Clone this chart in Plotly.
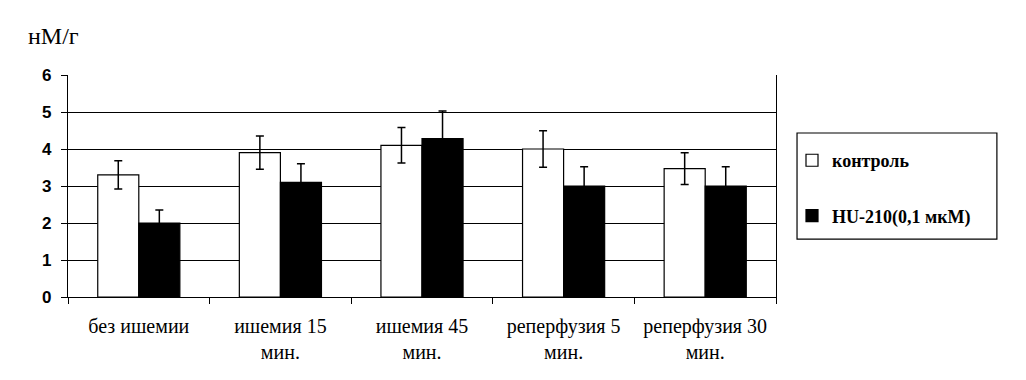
import plotly.graph_objects as go

categories = ["без ишемии", "ишемия 15<br>мин.", "ишемия 45<br>мин.", "реперфузия 5<br>мин.", "реперфузия 30<br>мин."]
control = [3.3, 3.9, 4.1, 4.0, 3.47]
control_err = [0.38, 0.45, 0.48, 0.49, 0.43]
hu210 = [2.0, 3.1, 4.28, 3.0, 3.0]
hu210_err = [0.35, 0.5, 0.75, 0.52, 0.52]
series_names = ["контроль", "HU-210(0,1 мкМ)"]
y_ticks = [0, 1, 2, 3, 4, 5, 6]

fig = go.Figure()
fig.add_trace(go.Bar(
    x=categories, y=control, name=series_names[0], legendgroup="a",
    marker=dict(color="white", line=dict(color="black", width=1.2)),
    error_y=dict(type="data", array=control_err, color="black", thickness=1.5, width=4),
))
fig.add_trace(go.Bar(
    x=categories, y=hu210, name=series_names[1], legendgroup="b",
    marker=dict(color="black", line=dict(color="black", width=1.2)),
    error_y=dict(type="data", array=hu210_err, color="black", thickness=1.5, width=4),
))

fig.update_layout(
    width=1026, height=380,
    margin=dict(l=68, r=250, t=75, b=83, autoexpand=False),
    paper_bgcolor="white", plot_bgcolor="white",
    barmode="group", bargap=0.42, bargroupgap=0,
    showlegend=True,
    legend=dict(
        x=1.0226, y=0.698, xanchor="left", yanchor="top",
        borderwidth=0, bgcolor="rgba(0,0,0,0)",
        font=dict(family="Liberation Serif", size=18, color="black", weight="bold"),
        tracegroupgap=29, itemwidth=30,
    ),
    font=dict(family="Liberation Serif", color="black"),
)
# legend frame
fig.add_shape(
    type="rect", xref="paper", yref="paper",
    x0=1.0297, x1=1.312, y0=0.261, y1=0.7387,
    line=dict(color="black", width=1.2), fillcolor="rgba(0,0,0,0)", layer="above",
)
fig.update_xaxes(
    showline=True, linecolor="black", linewidth=1.2,
    ticks="outside", tickson="boundaries", ticklen=6, tickcolor="black", tickwidth=1.2,
    tickfont=dict(family="Liberation Serif", size=20, color="black"),
    ticklabelstandoff=11, automargin=False,
    showgrid=False,
)
fig.update_yaxes(
    range=[0, 6], tickvals=y_ticks,
    showline=True, linecolor="black", linewidth=1.2, mirror=True,
    ticks="outside", ticklen=6, tickcolor="black", tickwidth=1.2,
    tickfont=dict(family="Liberation Sans", size=17, color="black", weight="bold"),
    ticklabelstandoff=6, automargin=False,
    showgrid=True, gridcolor="black", gridwidth=1.2,
    zeroline=False,
)
fig.add_annotation(
    text="нМ/г", xref="paper", yref="paper", x=-0.059, y=1.176,
    xanchor="left", yanchor="middle", showarrow=False,
    font=dict(family="Liberation Serif", size=24, color="black"),
)

fig.write_html("out.html", config={"displayModeBar": False},
               post_script="document.body.style.margin='0px';")
